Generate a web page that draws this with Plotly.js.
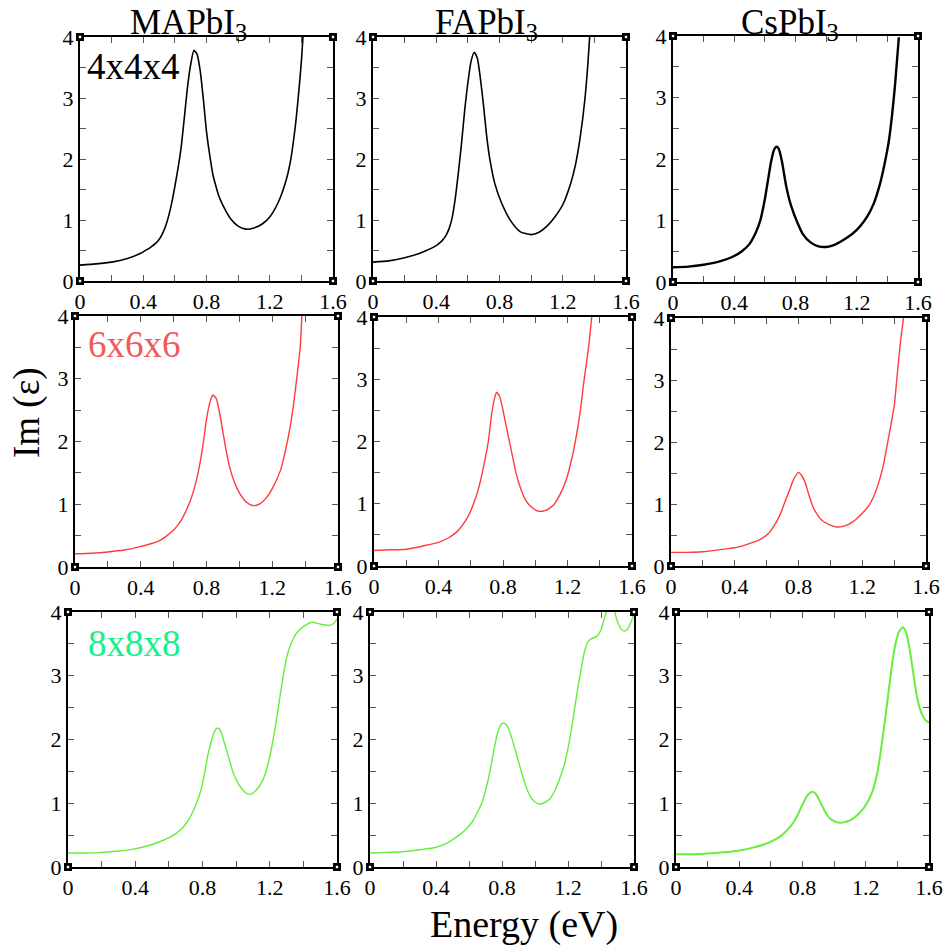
<!DOCTYPE html>
<html>
<head>
<meta charset="utf-8">
<script src="https://cdn.plot.ly/plotly-3.0.1.min.js"></script>
<style>
  html, body { margin: 0; padding: 0; background: #fff; }
  #chart { width: 947px; height: 950px; }
</style>
</head>
<body>
<div id="chart"></div>
<script>
// Imaginary part of the dielectric function vs. photon energy (eV)
// for three perovskites and three k-point meshes.

const compounds = ["MAPbI<sub>3</sub>", "FAPbI<sub>3</sub>", "CsPbI<sub>3</sub>"];
const meshes = ["4x4x4", "6x6x6", "8x8x8"];

// ---- 4x4x4 mesh ----
const E_MA_4   = [0, 0.1, 0.2, 0.3, 0.38, 0.42, 0.44, 0.46, 0.48, 0.5, 0.52, 0.54, 0.56, 0.58, 0.6, 0.62, 0.64, 0.66, 0.68, 0.7, 0.72, 0.74, 0.76, 0.78, 0.8, 0.82, 0.84, 0.86, 0.88, 0.9, 0.95, 1.0, 1.05, 1.1, 1.15, 1.2, 1.25, 1.3, 1.33, 1.36, 1.38, 1.4, 1.41, 1.43];
const eps_MA_4 = [0.26, 0.28, 0.31, 0.37, 0.45, 0.51, 0.54, 0.58, 0.62, 0.68, 0.77, 0.89, 1.06, 1.28, 1.55, 1.85, 2.20, 2.68, 3.18, 3.55, 3.78, 3.72, 3.45, 2.98, 2.45, 2.07, 1.75, 1.55, 1.38, 1.26, 1.03, 0.90, 0.85, 0.87, 0.93, 1.05, 1.27, 1.62, 1.95, 2.50, 3.00, 3.60, 4.00, 4.80];

const E_FA_4   = [0, 0.1, 0.2, 0.3, 0.4, 0.42, 0.44, 0.46, 0.48, 0.5, 0.52, 0.54, 0.56, 0.58, 0.6, 0.62, 0.64, 0.66, 0.68, 0.7, 0.72, 0.74, 0.77, 0.81, 0.87, 0.93, 1.0, 1.05, 1.1, 1.15, 1.2, 1.25, 1.28, 1.31, 1.34, 1.36, 1.37, 1.39];
const eps_FA_4 = [0.31, 0.33, 0.38, 0.46, 0.58, 0.62, 0.67, 0.74, 0.85, 1.03, 1.35, 1.78, 2.26, 2.80, 3.25, 3.60, 3.75, 3.65, 3.30, 2.85, 2.35, 1.98, 1.60, 1.30, 0.99, 0.81, 0.76, 0.80, 0.90, 1.05, 1.25, 1.60, 1.90, 2.35, 2.98, 3.60, 4.00, 4.80];

const E_Cs_4   = [0, 0.1, 0.2, 0.3, 0.39, 0.45, 0.5, 0.54, 0.57, 0.6, 0.62, 0.64, 0.66, 0.675, 0.69, 0.71, 0.74, 0.77, 0.81, 0.85, 0.9, 0.95, 1.0, 1.05, 1.11, 1.17, 1.22, 1.27, 1.31, 1.35, 1.38, 1.41, 1.43, 1.45, 1.475];
const eps_Cs_4 = [0.24, 0.25, 0.28, 0.33, 0.41, 0.50, 0.62, 0.80, 1.00, 1.35, 1.65, 1.95, 2.15, 2.20, 2.17, 1.98, 1.55, 1.25, 0.98, 0.77, 0.64, 0.58, 0.57, 0.60, 0.68, 0.78, 0.90, 1.07, 1.27, 1.58, 1.90, 2.30, 2.70, 3.20, 3.98];

// ---- 6x6x6 mesh ----
const E_MA_6   = [0, 0.1, 0.2, 0.3, 0.39, 0.46, 0.52, 0.56, 0.6, 0.64, 0.68, 0.71, 0.74, 0.76, 0.78, 0.8, 0.82, 0.84, 0.86, 0.88, 0.9, 0.92, 0.94, 0.97, 1.0, 1.04, 1.08, 1.12, 1.16, 1.2, 1.25, 1.28, 1.31, 1.33, 1.35, 1.37, 1.38, 1.4];
const eps_MA_6 = [0.21, 0.22, 0.24, 0.27, 0.32, 0.37, 0.43, 0.50, 0.59, 0.72, 0.92, 1.12, 1.40, 1.65, 1.97, 2.35, 2.62, 2.74, 2.68, 2.45, 2.15, 1.85, 1.60, 1.35, 1.18, 1.04, 0.98, 1.00, 1.09, 1.25, 1.54, 1.85, 2.25, 2.60, 3.03, 3.50, 3.98, 4.60];

const E_FA_6   = [0, 0.1, 0.2, 0.3, 0.4, 0.46, 0.51, 0.55, 0.59, 0.62, 0.65, 0.68, 0.71, 0.73, 0.75, 0.76, 0.78, 0.8, 0.83, 0.86, 0.88, 0.91, 0.94, 0.98, 1.02, 1.06, 1.11, 1.15, 1.19, 1.22, 1.25, 1.28, 1.3, 1.33, 1.35, 1.37];
const eps_FA_6 = [0.25, 0.26, 0.27, 0.32, 0.38, 0.45, 0.54, 0.66, 0.83, 1.02, 1.26, 1.60, 2.02, 2.45, 2.72, 2.79, 2.72, 2.50, 2.12, 1.75, 1.50, 1.24, 1.06, 0.94, 0.88, 0.89, 0.97, 1.13, 1.37, 1.65, 2.02, 2.50, 2.93, 3.50, 4.00, 4.60];

const E_Cs_6   = [0, 0.1, 0.2, 0.3, 0.41, 0.5, 0.56, 0.61, 0.64, 0.68, 0.71, 0.74, 0.77, 0.8, 0.82, 0.84, 0.865, 0.89, 0.92, 0.95, 1.0, 1.04, 1.08, 1.12, 1.16, 1.2, 1.24, 1.27, 1.3, 1.33, 1.36, 1.38, 1.4, 1.42, 1.44, 1.46, 1.48];
const eps_Cs_6 = [0.22, 0.22, 0.23, 0.26, 0.30, 0.37, 0.43, 0.52, 0.62, 0.80, 1.00, 1.20, 1.40, 1.51, 1.46, 1.36, 1.15, 0.96, 0.82, 0.73, 0.66, 0.63, 0.64, 0.68, 0.75, 0.85, 0.97, 1.11, 1.32, 1.60, 2.00, 2.28, 2.57, 3.10, 3.62, 4.02, 4.45];

// ---- 8x8x8 mesh ----
const E_MA_8   = [0, 0.1, 0.2, 0.3, 0.39, 0.47, 0.55, 0.6, 0.65, 0.69, 0.71, 0.73, 0.75, 0.77, 0.79, 0.81, 0.83, 0.85, 0.87, 0.89, 0.91, 0.93, 0.96, 0.98, 1.0, 1.03, 1.06, 1.08, 1.1, 1.13, 1.16, 1.18, 1.2, 1.22, 1.24, 1.26, 1.28, 1.3, 1.32, 1.34, 1.36, 1.4, 1.45, 1.5, 1.55, 1.58, 1.6];
const eps_MA_8 = [0.22, 0.22, 0.23, 0.25, 0.28, 0.33, 0.40, 0.46, 0.54, 0.64, 0.71, 0.80, 0.91, 1.04, 1.20, 1.44, 1.73, 1.95, 2.12, 2.18, 2.12, 1.95, 1.68, 1.50, 1.37, 1.24, 1.16, 1.14, 1.16, 1.24, 1.37, 1.52, 1.73, 2.00, 2.31, 2.66, 2.99, 3.28, 3.46, 3.58, 3.67, 3.77, 3.84, 3.81, 3.79, 3.82, 3.89];

const E_FA_8   = [0, 0.1, 0.2, 0.3, 0.4, 0.47, 0.54, 0.58, 0.62, 0.65, 0.68, 0.71, 0.73, 0.75, 0.77, 0.79, 0.81, 0.83, 0.85, 0.87, 0.89, 0.92, 0.95, 0.98, 1.02, 1.05, 1.09, 1.12, 1.15, 1.18, 1.2, 1.22, 1.24, 1.26, 1.28, 1.3, 1.32, 1.34, 1.36, 1.38, 1.4, 1.42, 1.44, 1.46, 1.48, 1.5, 1.52, 1.54, 1.56, 1.58, 1.6];
const eps_FA_8 = [0.22, 0.23, 0.24, 0.27, 0.31, 0.38, 0.50, 0.59, 0.71, 0.85, 1.02, 1.30, 1.54, 1.82, 2.07, 2.22, 2.26, 2.22, 2.10, 1.93, 1.75, 1.47, 1.23, 1.07, 0.99, 1.00, 1.07, 1.20, 1.39, 1.63, 1.86, 2.15, 2.48, 2.82, 3.11, 3.38, 3.53, 3.58, 3.60, 3.63, 3.72, 3.90, 4.05, 4.12, 4.02, 3.85, 3.74, 3.70, 3.73, 3.83, 3.97];

const E_Cs_8   = [0, 0.1, 0.2, 0.3, 0.4, 0.48, 0.55, 0.61, 0.66, 0.7, 0.74, 0.77, 0.8, 0.83, 0.86, 0.88, 0.9, 0.93, 0.96, 0.99, 1.02, 1.06, 1.1, 1.14, 1.18, 1.21, 1.24, 1.27, 1.29, 1.31, 1.33, 1.35, 1.37, 1.39, 1.41, 1.436, 1.455, 1.47, 1.49, 1.51, 1.53, 1.55, 1.57, 1.59, 1.6];
const eps_Cs_8 = [0.20, 0.20, 0.21, 0.23, 0.26, 0.30, 0.35, 0.41, 0.48, 0.57, 0.69, 0.82, 0.98, 1.12, 1.18, 1.16, 1.08, 0.93, 0.80, 0.73, 0.70, 0.70, 0.73, 0.80, 0.90, 1.01, 1.17, 1.44, 1.73, 2.09, 2.47, 2.86, 3.24, 3.52, 3.69, 3.76, 3.68, 3.52, 3.22, 2.88, 2.60, 2.43, 2.33, 2.28, 2.27];

const xTickLabels = ["0", "0.4", "0.8", "1.2", "1.6"];
const yTickLabels = ["0", "1", "2", "3", "4"];

// row -> curve colour, label colour, line width per column
const rowStyles = [
  { line: "#000000", label: "#000000", widths: [1.6, 1.6, 2.4] },
  { line: "#ff3b3b", label: "#f05a5a", widths: [1.4, 1.4, 1.4] },
  { line: "#66ee3c", label: "#14f08c", widths: [1.4, 1.4, 2.0] }
];

const seriesGrid = [
  [[E_MA_4, eps_MA_4], [E_FA_4, eps_FA_4], [E_Cs_4, eps_Cs_4]],
  [[E_MA_6, eps_MA_6], [E_FA_6, eps_FA_6], [E_Cs_6, eps_Cs_6]],
  [[E_MA_8, eps_MA_8], [E_FA_8, eps_FA_8], [E_Cs_8, eps_Cs_8]]
];

// Panel frames in page pixels: [left, right, top, bottom]
const W = 947, H = 950;
const frames = [
  [[80, 333, 37, 281], [373, 626, 37, 281], [673, 918, 36, 282]],
  [[75, 338, 316, 567], [374, 632, 317, 566], [671, 926, 318, 566]],
  [[68, 337, 612, 867], [370, 634, 612, 867], [676, 929, 612, 867]]
];

const serif = "'Liberation Serif', 'Times New Roman', Times, serif";
const data = [];
const layout = {
  width: W, height: H,
  margin: { l: 0, r: 0, t: 0, b: 0 },
  paper_bgcolor: "#ffffff",
  plot_bgcolor: "#ffffff",
  showlegend: false,
  font: { family: serif, color: "#000" },
  annotations: [],
  shapes: []
};

let n = 0;
for (let r = 0; r < 3; r++) {
  for (let c = 0; c < 3; c++) {
    n++;
    const xa = n === 1 ? "x" : "x" + n;
    const ya = n === 1 ? "y" : "y" + n;
    const [xs, ys] = seriesGrid[r][c];
    data.push({
      x: xs, y: ys, xaxis: xa, yaxis: ya,
      type: "scatter", mode: "lines",
      line: { color: rowStyles[r].line, width: rowStyles[r].widths[c], shape: "spline", smoothing: 0.6 },
      hoverinfo: "skip"
    });
    const [L, R, T, B] = frames[r][c];
    const common = {
      showline: true, linecolor: "#000", linewidth: 2, mirror: "allticks",
      ticks: "inside", ticklen: 6, tickwidth: 1, tickcolor: "#555",
      showgrid: false, zeroline: false,
      tickfont: { family: serif, size: 22, color: "#000" },
      fixedrange: true
    };
    layout["xaxis" + (n === 1 ? "" : n)] = Object.assign({}, common, {
      domain: [L / W, R / W], anchor: ya, range: [0, 1.6],
      tickmode: "array", tickvals: [0, 0.4, 0.8, 1.2, 1.6], ticktext: xTickLabels,
      minor: { tickmode: "array", tickvals: [0.2, 0.6, 1.0, 1.4], ticks: "inside", ticklen: 6, tickcolor: "#555", tickwidth: 1 }
    });
    layout["yaxis" + (n === 1 ? "" : n)] = Object.assign({}, common, {
      domain: [1 - B / H, 1 - T / H], anchor: xa, range: [0, 4],
      tickmode: "array", tickvals: [0, 1, 2, 3, 4], ticktext: yTickLabels,
      minor: { tickmode: "array", tickvals: [0.5, 1.5, 2.5, 3.5], ticks: "inside", ticklen: 6, tickcolor: "#555", tickwidth: 1 }
    });
    // small square markers at the four frame corners
    const xd = xa + " domain", yd = ya + " domain";
    [[0, 0], [1, 0], [0, 1], [1, 1]].forEach(([ax, ay]) => {
      layout.shapes.push({
        type: "rect", xref: xd, yref: yd, xsizemode: "pixel", ysizemode: "pixel",
        xanchor: ax, yanchor: ay, x0: -4, x1: 4, y0: -4, y1: 4,
        fillcolor: "#000", line: { width: 0 }, layer: "above"
      });
      layout.shapes.push({
        type: "rect", xref: xd, yref: yd, xsizemode: "pixel", ysizemode: "pixel",
        xanchor: ax, yanchor: ay, x0: -1.2, x1: 1.2, y0: -1.2, y1: 1.2,
        fillcolor: "#fff", line: { width: 0 }, layer: "above"
      });
    });
  }
}

// mesh label inside the first panel of each row (page-pixel centre heights)
const meshLabelX = [85, 86, 86];
const meshLabelY = [66, 344, 643];
meshes.forEach((m, r) => {
  layout.annotations.push({
    text: m, xref: "paper", yref: "paper",
    x: meshLabelX[r] / W, y: 1 - meshLabelY[r] / H, xanchor: "left", yanchor: "middle",
    showarrow: false, font: { family: serif, size: 37, color: rowStyles[r].label }
  });
});

// compound names above each column
const titleCenters = [188, 487, 790];
compounds.forEach((name, i) => {
  layout.annotations.push({
    text: name, xref: "paper", yref: "paper",
    x: titleCenters[i] / W, y: 1 - 24 / H, xanchor: "center", yanchor: "middle",
    showarrow: false, font: { family: serif, size: 35, color: "#000" }
  });
});

// shared axis titles
layout.annotations.push({
  text: "Im (ε)", xref: "paper", yref: "paper",
  x: 27 / W, y: 1 - 413 / H, xanchor: "center", yanchor: "middle",
  textangle: -90, showarrow: false, font: { family: serif, size: 37, color: "#000" }
});
layout.annotations.push({
  text: "Energy (eV)", xref: "paper", yref: "paper",
  x: 524 / W, y: 1 - 924 / H, xanchor: "center", yanchor: "middle",
  showarrow: false, font: { family: serif, size: 38, color: "#000" }
});

Plotly.newPlot("chart", data, layout, { displayModeBar: false, staticPlot: true });
</script>
</body>
</html>
